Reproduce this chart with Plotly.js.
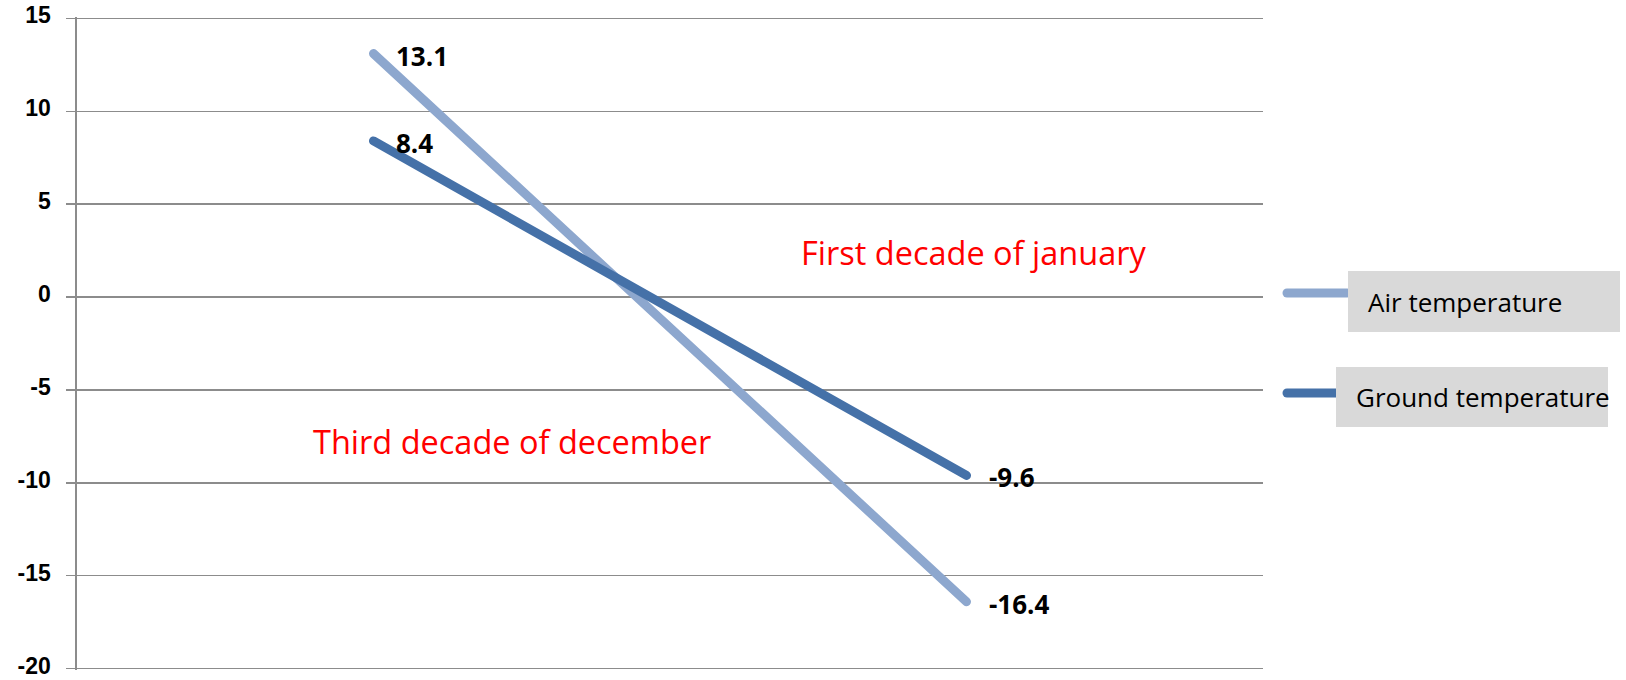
<!DOCTYPE html>
<html>
<head>
<meta charset="utf-8">
<script src="https://cdn.plot.ly/plotly-3.0.1.min.js"></script>
<style>
  html, body { margin: 0; padding: 0; background: #fff; }
  #chart { width: 1626px; height: 680px; }
  .js-line { stroke-linecap: round !important; }
</style>
</head>
<body>
<div id="chart"></div>
<script>
// ---- data ----
const categories = ["Third decade of december", "First decade of january"];
const airTemperature = [13.1, -16.4];
const groundTemperature = [8.4, -9.6];
const seriesNames = ["Air temperature", "Ground temperature"];
const yTickValues = [-20, -15, -10, -5, 0, 5, 10, 15];
const yTickLabels = ["-20", "-15", "-10", "-5", "0", "5", "10", "15"];

// ---- styling ----
const W = 1626, H = 680;
const M = { l: 77, r: 363, t: 17, b: 10 };
const PW = W - M.l - M.r, PH = H - M.t - M.b;
const xp = px => (px - M.l) / PW;
const yp = py => (H - M.b - py) / PH;

const airColor = "#8DA7CE";
const groundColor = "#4571A8";
const gridColor = "#8C8C8C";
const fontFamily = "'Open Sans', 'Noto Sans', sans-serif";
const tickFontFamily = "'Liberation Sans', Arial, sans-serif";

const catIdx = categories.map((c, i) => i);

const traces = [
  { x: categories, y: airTemperature, name: seriesNames[0], type: "scatter", mode: "lines",
    line: { color: airColor, width: 9 }, hoverinfo: "skip", showlegend: false },
  { x: categories, y: groundTemperature, name: seriesNames[1], type: "scatter", mode: "lines",
    line: { color: groundColor, width: 9 }, hoverinfo: "skip", showlegend: false }
];

const annotations = [];
// data labels
[airTemperature, groundTemperature].forEach(series => {
  series.forEach((v, i) => {
    annotations.push({
      x: catIdx[i], y: v, xref: "x", yref: "y",
      text: String(v), showarrow: false,
      xanchor: "left", yanchor: "middle", xshift: 20, yshift: -2,
      font: { family: fontFamily, size: 26, color: "#000", weight: "bold" }
    });
  });
});
// category labels drawn inside the plot (red)
const catLabelPos = [ { x: 0.233, y: -7.8 }, { x: 1.013, y: 2.4 } ];
categories.forEach((c, i) => {
  annotations.push({
    x: catLabelPos[i].x, y: catLabelPos[i].y, xref: "x", yref: "y",
    text: c, showarrow: false, xanchor: "center", yanchor: "middle",
    font: { family: fontFamily, size: 32.5, color: "#FF0000" }
  });
});

// custom legend
const legendItems = [
  { name: seriesNames[0], color: airColor, line: [1287, 1347, 293], box: [1348, 1620, 271, 332], textX: 1366 },
  { name: seriesNames[1], color: groundColor, line: [1287, 1337, 393], box: [1336, 1608, 367, 427], textX: 1354 }
];
const shapes = [];
legendItems.forEach(it => {
  shapes.push({ type: "line", xref: "paper", yref: "paper",
    x0: xp(it.line[0]), x1: xp(it.line[1]), y0: yp(it.line[2]), y1: yp(it.line[2]),
    line: { color: it.color, width: 9 } });
});
legendItems.forEach(it => {
  shapes.push({ type: "rect", xref: "paper", yref: "paper",
    x0: xp(it.box[0]), x1: xp(it.box[1]), y0: yp(it.box[3]), y1: yp(it.box[2]),
    fillcolor: "#D9D9D9", line: { width: 0 } });
  annotations.push({
    x: xp(it.textX), y: yp((it.box[2] + it.box[3]) / 2), xref: "paper", yref: "paper",
    text: it.name, showarrow: false, xanchor: "left", yanchor: "middle",
    font: { family: fontFamily, size: 26, color: "#000" }
  });
});

const layout = {
  width: W, height: H,
  margin: M,
  paper_bgcolor: "#fff", plot_bgcolor: "#fff",
  showlegend: false,
  font: { family: fontFamily },
  xaxis: {
    type: "category", range: [-0.5, 1.5],
    showgrid: false, zeroline: false,
    showline: false,
    showticklabels: false, ticks: ""
  },
  yaxis: {
    range: [-20.07, 15.07], tickmode: "array", tickvals: yTickValues, ticktext: yTickLabels,
    showgrid: true, gridcolor: gridColor, gridwidth: 1.4,
    zeroline: false,
    showline: true, linecolor: gridColor, linewidth: 1.6,
    ticks: "outside", ticklen: 9, tickcolor: gridColor, tickwidth: 1.4,
    ticklabelstandoff: 11, ticklabeloverflow: "allow", ticklabelshift: -3,
    tickfont: { family: tickFontFamily, size: 23, color: "#000", weight: "bold" }
  },
  annotations: annotations,
  shapes: shapes
};

Plotly.newPlot("chart", traces, layout, { staticPlot: true, displayModeBar: false }).then(() => {
  document.querySelectorAll(".shapelayer path").forEach(p => {
    const d = p.getAttribute("d") || "";
    if (!/Z/i.test(d)) p.style.strokeLinecap = "round";
  });
});
</script>
</body>
</html>
